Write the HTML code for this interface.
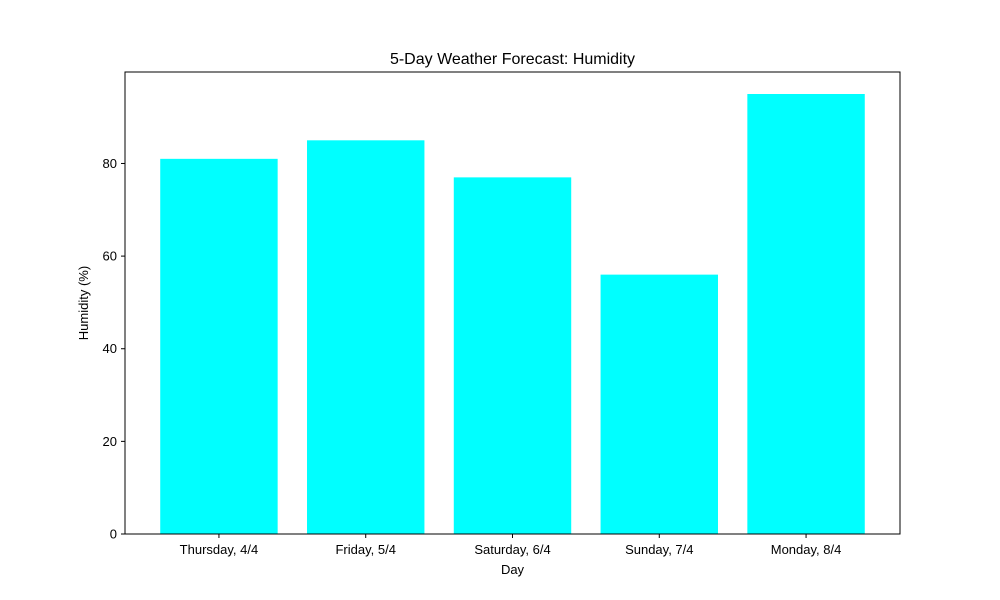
<!DOCTYPE html>
<html><head><meta charset="utf-8"><style>
body{margin:0;background:#fff;}
svg{display:block;font-family:"Liberation Sans","DejaVu Sans",sans-serif;}
</style></head><body>
<svg id="chart" width="1000" height="600">
<rect width="1000" height="600" fill="#fff"/>
<text x="512.5" y="64" text-anchor="middle" font-size="16">5-Day Weather Forecast: Humidity</text>
<g id="bars"></g>
<g id="axes"></g>
<text x="512.5" y="574" text-anchor="middle" font-size="13">Day</text>
<text transform="translate(88,303) rotate(-90)" text-anchor="middle" font-size="13">Humidity (%)</text>
</svg>
<script>
const categories = ["Thursday, 4/4","Friday, 5/4","Saturday, 6/4","Sunday, 7/4","Monday, 8/4"];
const humidity = [81, 85, 77, 56, 95];
const yTicks = [0, 20, 40, 60, 80];

const L=125,R=900,T=72,B=534;
const yMax = Math.max(...humidity)*1.05;
const xMin=-0.64, xMax=categories.length-1+0.64;
const x = v => L + (v-xMin)/(xMax-xMin)*(R-L);
const y = v => B - v/yMax*(B-T);
const NS="http://www.w3.org/2000/svg";
const bars=document.getElementById('bars'), axes=document.getElementById('axes');
function mk(tag,attrs,parent){const e=document.createElementNS(NS,tag);for(const k in attrs)e.setAttribute(k,attrs[k]);parent.appendChild(e);return e;}

humidity.forEach((v,i)=>{
  const r=mk('rect',{x:x(i-0.4),y:y(v),width:x(i+0.4)-x(i-0.4),height:B-y(v),fill:'#00ffff'},bars);
  
  
});
const frame=mk('rect',{x:L,y:T,width:R-L,height:B-T,fill:'none',stroke:'#000','stroke-width':1},axes);


yTicks.forEach(t=>{
  mk('line',{x1:L-4,x2:L,y1:y(t),y2:y(t),stroke:'#000'},axes);
  const tx=mk('text',{x:L-8,y:y(t)+4.5,'text-anchor':'end','font-size':13},axes);
  tx.textContent=t;
  
  
});
categories.forEach((c,i)=>{
  mk('line',{x1:x(i),x2:x(i),y1:B,y2:B+4,stroke:'#000'},axes);
  const tx=mk('text',{x:x(i),y:B+20,'text-anchor':'middle','font-size':13},axes);
  tx.textContent=c;
  
  
});
</script>
</body></html>
